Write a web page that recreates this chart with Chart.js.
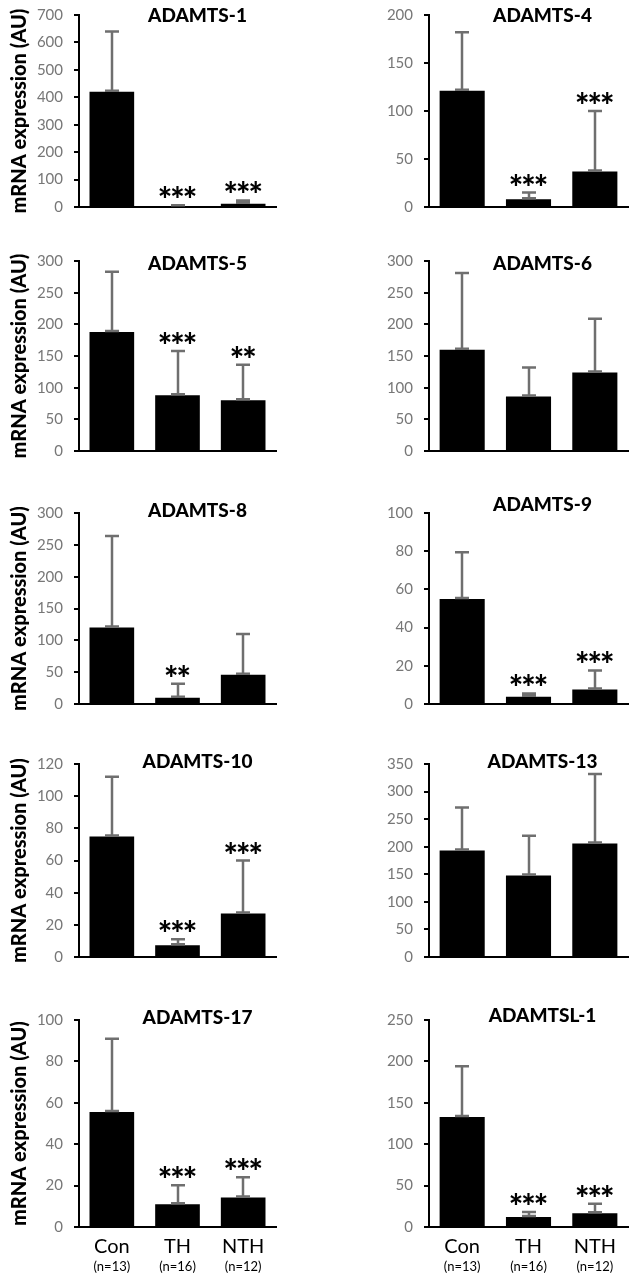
<!DOCTYPE html>
<html>
<head>
<meta charset="utf-8">
<script src="https://cdn.jsdelivr.net/npm/chart.js@4.4.1/dist/chart.umd.min.js"></script>
<style>
  body { margin: 0; background: #fff; }
  #wrap { position: relative; width: 633px; height: 1280px; overflow: hidden; background: #fff; }
  #wrap canvas { position: absolute; }
</style>
</head>
<body>
<div id="wrap"></div>
<script>
// --- data ---
const groups = ['Con', 'TH', 'NTH'];
const groupN = ['(n=13)', '(n=16)', '(n=12)'];
const genes = ['ADAMTS-1', 'ADAMTS-4', 'ADAMTS-5', 'ADAMTS-6', 'ADAMTS-8',
               'ADAMTS-9', 'ADAMTS-10', 'ADAMTS-13', 'ADAMTS-17', 'ADAMTSL-1'];
const means = [
  [420, 3, 12], [121, 8, 37], [188, 88, 80], [160, 86, 124], [120, 10, 46],
  [55, 3.8, 7.6], [75, 7.3, 27], [193, 148, 206], [55.5, 11, 14.3], [133, 12, 16.5]
];
const errTop = [
  [640, 6, 24], [182, 15, 100], [283, 158, 136], [281, 132, 209], [264, 32, 110],
  [79.5, 5.5, 17.6], [112, 11, 60], [271, 220, 332], [91, 20.2, 24], [194, 18, 28]
];
const yMax = [700, 200, 300, 300, 300, 100, 120, 350, 100, 250];
const yStep = [100, 50, 50, 50, 50, 20, 20, 50, 20, 50];
const stars = [
  ['', '***', '***'], ['', '***', '***'], ['', '***', '**'], ['', '', ''], ['', '**', ''],
  ['', '***', '***'], ['', '***', '***'], ['', '', ''], ['', '***', '***'], ['', '***', '***']
];

// --- layout ---
const rowTop = [15, 261, 513, 764, 1020];
const rowBottom = [223, 467, 720, 973, 1227];
const titleDy = [[7, 7], [9, 9], [4, -2], [4, 4], [4, 2]];
const cols = [
  { left: 0, width: 316, axisX: 79, endX: 276, titleDx: 20 },
  { left: 316, width: 317, axisX: 429, endX: 628, titleDx: 14 }
];
const PAD_TOP = 20;
const STAR_FONT = 'Lato';

function starFontSize() {
  const c = document.createElement('canvas').getContext('2d');
  c.font = '900 100px ' + STAR_FONT;
  const m = c.measureText('*');
  const h = m.actualBoundingBoxAscent + m.actualBoundingBoxDescent;
  return Math.round(100 * 12 / h);
}
const starSize = starFontSize();

const decor = {
  id: 'decor',
  afterDatasetsDraw(chart, args, opts) {
    const { ctx, chartArea: a, scales: { x, y } } = chart;
    const p = opts.panel;
    ctx.save();

    // error bars (upper only, with caps)
    ctx.strokeStyle = '#6f6f6f';
    ctx.lineWidth = 2.5;
    means[p].forEach((m, i) => {
      const cx = Math.round(x.getPixelForValue(i));
      const y0 = y.getPixelForValue(m);
      const y1 = y.getPixelForValue(errTop[p][i]);
      ctx.beginPath();
      ctx.moveTo(cx, y0); ctx.lineTo(cx, y1);
      ctx.moveTo(cx - 7, y1); ctx.lineTo(cx + 7, y1);
      ctx.moveTo(cx - 7, y0 - 1); ctx.lineTo(cx + 7, y0 - 1);
      ctx.stroke();
    });

    // significance stars
    ctx.fillStyle = '#000';
    ctx.font = '900 ' + starSize + 'px ' + STAR_FONT;
    ctx.textAlign = 'center';
    ctx.textBaseline = 'alphabetic';
    const sm = ctx.measureText('*');
    stars[p].forEach((s, i) => {
      if (!s) return;
      const cx = x.getPixelForValue(i);
      const bottom = y.getPixelForValue(errTop[p][i]) - 7;
      const base = bottom - sm.actualBoundingBoxDescent;
      for (let k = 0; k < s.length; k++) {
        ctx.fillText('*', cx + (k - (s.length - 1) / 2) * 12.5, base);
      }
    });

    // panel title
    ctx.font = '900 19px Lato';
    ctx.fillText(genes[p], (a.left + a.right) / 2 + opts.titleDx, a.top + opts.titleDy);

    // group labels on the bottom row
    if (opts.bottomRow) {
      groups.forEach((g, i) => {
        const cx = x.getPixelForValue(i);
        ctx.font = '20px Lato';
        ctx.fillText(g, cx, a.bottom + 26);
        ctx.font = '13px Lato';
        ctx.fillText(groupN[i], cx, a.bottom + 44);
      });
    }
    ctx.restore();
  }
};

const wrap = document.getElementById('wrap');

genes.forEach((gene, p) => {
  const row = Math.floor(p / 2);
  const colIdx = p % 2;
  const col = cols[colIdx];
  const bottomRow = row === rowTop.length - 1;
  const plotH = rowBottom[row] - rowTop[row];
  const top = rowTop[row] - PAD_TOP;
  const extra = bottomRow ? 1280 - top - PAD_TOP - plotH : 4;
  const height = PAD_TOP + plotH + extra;

  const canvas = document.createElement('canvas');
  canvas.width = col.width;
  canvas.height = height;
  canvas.style.left = col.left + 'px';
  canvas.style.top = top + 'px';
  canvas.style.width = col.width + 'px';
  canvas.style.height = height + 'px';
  wrap.appendChild(canvas);

  new Chart(canvas, {
    type: 'bar',
    data: {
      labels: groups,
      datasets: [{
        data: means[p],
        backgroundColor: '#000',
        borderWidth: 0,
        barPercentage: 0.68,
        categoryPercentage: 1
      }]
    },
    options: {
      responsive: false,
      animation: false,
      devicePixelRatio: 1,
      layout: { padding: { top: PAD_TOP, right: col.width - (col.endX - col.left), left: 0, bottom: 0 } },
      plugins: {
        legend: { display: false },
        tooltip: { enabled: false },
        decor: { panel: p, bottomRow, titleDx: col.titleDx, titleDy: titleDy[row][colIdx] }
      },
      scales: {
        x: {
          ticks: { display: false },
          grid: { display: false },
          border: { color: '#000', width: 2 },
          afterFit: s => { s.height = extra; }
        },
        y: {
          min: 0,
          max: yMax[p],
          ticks: { stepSize: yStep[p], color: '#777777', font: { family: 'Lato', size: 15 }, padding: 11 },
          grid: { drawOnChartArea: false, color: '#000', lineWidth: 2, tickLength: 5 },
          border: { color: '#000', width: 2 },
          title: {
            display: colIdx === 0,
            text: 'mRNA expression (AU)',
            color: '#000',
            font: { family: 'Lato', size: 20, weight: '900' },
            padding: { top: 8, bottom: 0 }
          },
          afterFit: s => { s.width = col.axisX - col.left; }
        }
      }
    },
    plugins: [decor]
  });
});
</script>
</body>
</html>
